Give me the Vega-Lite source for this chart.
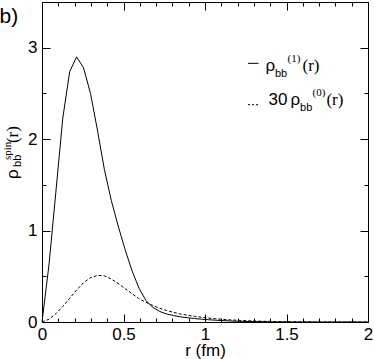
{
  "$schema": "https://vega.github.io/schema/vega-lite/v6.json",
  "autosize": "none",
  "width": 326,
  "height": 320,
  "padding": {"left": 42, "top": 2, "right": 6, "bottom": 37},
  "background": "white",
  "config": {
    "view": {"stroke": null},
    "axis": {
      "grid": false,
      "domainColor": "black",
      "domainWidth": 1,
      "tickColor": "black",
      "tickWidth": 1,
      "labelColor": "black",
      "labelFont": "Liberation Sans",
      "labelFontSize": 17,
      "labelOverlap": false,
      "labelBound": false,
      "labelFlush": false,
      "titleFont": "Liberation Sans",
      "titleFontSize": 17,
      "titleFontWeight": "normal",
      "titleColor": "black"
    }
  },
  "resolve": {"axis": {"x": "independent", "y": "independent"}},
  "layer": [
    {
      "data": {"values": [
        {"r": 0, "v": 0}, {"r": 0.0425, "v": 0.62}, {"r": 0.085, "v": 1.42}, {"r": 0.1275, "v": 2.23},
        {"r": 0.17, "v": 2.74}, {"r": 0.2125, "v": 2.9}, {"r": 0.255, "v": 2.78}, {"r": 0.2975, "v": 2.5},
        {"r": 0.34, "v": 2.1}, {"r": 0.3825, "v": 1.67}, {"r": 0.425, "v": 1.33}, {"r": 0.4675, "v": 1.05},
        {"r": 0.51, "v": 0.79}, {"r": 0.5525, "v": 0.56}, {"r": 0.595, "v": 0.37}, {"r": 0.6375, "v": 0.235},
        {"r": 0.68, "v": 0.16}, {"r": 0.7225, "v": 0.115}, {"r": 0.765, "v": 0.088}, {"r": 0.8075, "v": 0.07},
        {"r": 0.85, "v": 0.056}, {"r": 0.8925, "v": 0.046}, {"r": 0.935, "v": 0.038}, {"r": 0.9775, "v": 0.031},
        {"r": 1.02, "v": 0.025}, {"r": 1.0625, "v": 0.02}, {"r": 1.105, "v": 0.016}, {"r": 1.1475, "v": 0.012},
        {"r": 1.19, "v": 0.009}, {"r": 1.2325, "v": 0.007}, {"r": 1.275, "v": 0.005}, {"r": 1.3175, "v": 0.004},
        {"r": 1.36, "v": 0.003}, {"r": 1.4025, "v": 0.002}, {"r": 1.445, "v": 0.001}, {"r": 1.4875, "v": 0.001},
        {"r": 1.53, "v": 0}, {"r": 1.7, "v": 0}, {"r": 2, "v": 0}
      ]},
      "mark": {"type": "line", "color": "black", "strokeWidth": 1},
      "encoding": {
        "x": {"field": "r", "type": "quantitative",
          "scale": {"domain": [0, 2], "nice": false, "zero": false},
          "axis": {"orient": "bottom", "title": "r  (fm)", "titlePadding": -4,
            "values": [0,0.1,0.2,0.3,0.4,0.5,0.6,0.7,0.8,0.9,1,1.1,1.2,1.3,1.4,1.5,1.6,1.7,1.8,1.9,2],
            "labelExpr": "abs(datum.value*2-round(datum.value*2))<0.001 ? format(datum.value,'~g') : ''",
            "tickSize": {"condition": {"test": "abs(datum.value*2-round(datum.value*2))<0.001", "value": -8}, "value": -4},
            "labelPadding": 12}},
        "y": {"field": "v", "type": "quantitative",
          "scale": {"domain": [0, 3.5], "nice": false, "zero": false},
          "axis": {"orient": "left", "title": null,
            "values": [0,0.5,1,1.5,2,2.5,3,3.5],
            "labelExpr": "abs(datum.value-round(datum.value))<0.001 ? format(datum.value,'~g') : ''",
            "tickSize": {"condition": {"test": "abs(datum.value-round(datum.value))<0.001", "value": -8}, "value": -4},
            "labelPadding": 13}}
      }
    },
    {
      "data": {"values": [
        {"r": 0, "v": 0}, {"r": 0.0425, "v": 0.03}, {"r": 0.085, "v": 0.09}, {"r": 0.1275, "v": 0.17},
        {"r": 0.17, "v": 0.26}, {"r": 0.2125, "v": 0.35}, {"r": 0.255, "v": 0.43}, {"r": 0.2975, "v": 0.485},
        {"r": 0.34, "v": 0.51}, {"r": 0.3825, "v": 0.505}, {"r": 0.425, "v": 0.47}, {"r": 0.4675, "v": 0.42},
        {"r": 0.51, "v": 0.365}, {"r": 0.5525, "v": 0.31}, {"r": 0.595, "v": 0.255}, {"r": 0.6375, "v": 0.215},
        {"r": 0.68, "v": 0.18}, {"r": 0.7225, "v": 0.15}, {"r": 0.765, "v": 0.125}, {"r": 0.8075, "v": 0.105},
        {"r": 0.85, "v": 0.088}, {"r": 0.8925, "v": 0.074}, {"r": 0.935, "v": 0.062}, {"r": 0.9775, "v": 0.052},
        {"r": 1.02, "v": 0.043}, {"r": 1.0625, "v": 0.036}, {"r": 1.105, "v": 0.03}, {"r": 1.1475, "v": 0.024},
        {"r": 1.19, "v": 0.02}, {"r": 1.2325, "v": 0.016}, {"r": 1.275, "v": 0.013}, {"r": 1.3175, "v": 0.01},
        {"r": 1.36, "v": 0.008}, {"r": 1.4025, "v": 0.006}, {"r": 1.445, "v": 0.005}, {"r": 1.4875, "v": 0.004},
        {"r": 1.53, "v": 0.003}, {"r": 1.5725, "v": 0.002}, {"r": 1.615, "v": 0.001}, {"r": 1.7, "v": 0},
        {"r": 2, "v": 0}
      ]},
      "mark": {"type": "line", "color": "black", "strokeWidth": 1, "strokeDash": [3, 2]},
      "encoding": {
        "x": {"field": "r", "type": "quantitative",
          "axis": {"orient": "top", "title": null, "labels": false,
            "values": [0,0.1,0.2,0.3,0.4,0.5,0.6,0.7,0.8,0.9,1,1.1,1.2,1.3,1.4,1.5,1.6,1.7,1.8,1.9,2],
            "tickSize": {"condition": {"test": "abs(datum.value*2-round(datum.value*2))<0.001", "value": -8}, "value": -4}}},
        "y": {"field": "v", "type": "quantitative",
          "axis": {"orient": "right", "title": null, "labels": false,
            "values": [0,0.5,1,1.5,2,2.5,3,3.5],
            "tickSize": {"condition": {"test": "abs(datum.value-round(datum.value))<0.001", "value": -8}, "value": -4}}}
      }
    },
    {
      "data": {"values": [{}]},
      "mark": {"type": "rule", "color": "black", "strokeWidth": 1},
      "encoding": {
        "x": {"datum": 1.264, "type": "quantitative", "axis": null},
        "x2": {"datum": 1.328},
        "y": {"datum": 2.829, "type": "quantitative", "axis": null}
      }
    },
    {
      "data": {"values": [{}]},
      "mark": {"type": "rule", "color": "black", "strokeWidth": 1, "strokeDash": [2, 2]},
      "encoding": {
        "x": {"datum": 1.264, "type": "quantitative", "axis": null},
        "x2": {"datum": 1.334},
        "y": {"datum": 2.377, "type": "quantitative", "axis": null}
      }
    },
    {
      "data": {"values": [{}]},
      "mark": {"type": "text", "text": "ρ", "font": "Liberation Sans", "fontSize": 17, "align": "left", "baseline": "alphabetic", "color": "black"},
      "encoding": {"x": {"datum": 1.371, "type": "quantitative", "axis": null}, "y": {"datum": 2.75, "type": "quantitative", "axis": null}}
    },
    {
      "data": {"values": [{}]},
      "mark": {"type": "text", "text": "bb", "font": "Liberation Sans", "fontSize": 11, "align": "left", "baseline": "alphabetic", "color": "black"},
      "encoding": {"x": {"datum": 1.429, "type": "quantitative", "axis": null}, "y": {"datum": 2.685, "type": "quantitative", "axis": null}}
    },
    {
      "data": {"values": [{}]},
      "mark": {"type": "text", "text": "(1)", "font": "Liberation Serif", "fontSize": 11, "align": "left", "baseline": "alphabetic", "color": "black"},
      "encoding": {"x": {"datum": 1.506, "type": "quantitative", "axis": null}, "y": {"datum": 2.848, "type": "quantitative", "axis": null}}
    },
    {
      "data": {"values": [{}]},
      "mark": {"type": "text", "text": "(r)", "font": "Liberation Serif", "fontSize": 17, "align": "left", "baseline": "alphabetic", "color": "black"},
      "encoding": {"x": {"datum": 1.598, "type": "quantitative", "axis": null}, "y": {"datum": 2.75, "type": "quantitative", "axis": null}}
    },
    {
      "data": {"values": [{}]},
      "mark": {"type": "text", "text": "30", "font": "Liberation Sans", "fontSize": 17, "align": "left", "baseline": "alphabetic", "color": "black"},
      "encoding": {"x": {"datum": 1.39, "type": "quantitative", "axis": null}, "y": {"datum": 2.37, "type": "quantitative", "axis": null}}
    },
    {
      "data": {"values": [{}]},
      "mark": {"type": "text", "text": "ρ", "font": "Liberation Sans", "fontSize": 17, "align": "left", "baseline": "alphabetic", "color": "black"},
      "encoding": {"x": {"datum": 1.525, "type": "quantitative", "axis": null}, "y": {"datum": 2.37, "type": "quantitative", "axis": null}}
    },
    {
      "data": {"values": [{}]},
      "mark": {"type": "text", "text": "bb", "font": "Liberation Sans", "fontSize": 11, "align": "left", "baseline": "alphabetic", "color": "black"},
      "encoding": {"x": {"datum": 1.583, "type": "quantitative", "axis": null}, "y": {"datum": 2.304, "type": "quantitative", "axis": null}}
    },
    {
      "data": {"values": [{}]},
      "mark": {"type": "text", "text": "(0)", "font": "Liberation Serif", "fontSize": 11, "align": "left", "baseline": "alphabetic", "color": "black"},
      "encoding": {"x": {"datum": 1.66, "type": "quantitative", "axis": null}, "y": {"datum": 2.467, "type": "quantitative", "axis": null}}
    },
    {
      "data": {"values": [{}]},
      "mark": {"type": "text", "text": "(r)", "font": "Liberation Serif", "fontSize": 17, "align": "left", "baseline": "alphabetic", "color": "black"},
      "encoding": {"x": {"datum": 1.745, "type": "quantitative", "axis": null}, "y": {"datum": 2.37, "type": "quantitative", "axis": null}}
    },
    {
      "data": {"values": [{}]},
      "mark": {"type": "text", "text": "ρ", "font": "Liberation Sans", "fontSize": 17, "align": "left", "baseline": "alphabetic", "angle": 270, "color": "black"},
      "encoding": {"x": {"datum": -0.15, "type": "quantitative", "axis": null}, "y": {"datum": 1.565, "type": "quantitative", "axis": null}}
    },
    {
      "data": {"values": [{}]},
      "mark": {"type": "text", "text": "bb", "font": "Liberation Sans", "fontSize": 11, "align": "left", "baseline": "alphabetic", "angle": 270, "color": "black"},
      "encoding": {"x": {"datum": -0.126, "type": "quantitative", "axis": null}, "y": {"datum": 1.696, "type": "quantitative", "axis": null}}
    },
    {
      "data": {"values": [{}]},
      "mark": {"type": "text", "text": "spin", "font": "Liberation Serif", "fontSize": 11, "align": "left", "baseline": "alphabetic", "angle": 270, "color": "black"},
      "encoding": {"x": {"datum": -0.193, "type": "quantitative", "axis": null}, "y": {"datum": 1.772, "type": "quantitative", "axis": null}}
    },
    {
      "data": {"values": [{}]},
      "mark": {"type": "text", "text": "(r)", "font": "Liberation Serif", "fontSize": 17, "align": "left", "baseline": "alphabetic", "angle": 270, "color": "black"},
      "encoding": {"x": {"datum": -0.15, "type": "quantitative", "axis": null}, "y": {"datum": 1.957, "type": "quantitative", "axis": null}}
    },
    {
      "data": {"values": [{}]},
      "mark": {"type": "text", "text": "b)", "font": "Liberation Sans", "fontSize": 21, "align": "left", "baseline": "alphabetic", "color": "black"},
      "encoding": {"x": {"datum": -0.26, "type": "quantitative", "axis": null}, "y": {"datum": 3.27, "type": "quantitative", "axis": null}}
    }
  ]
}
